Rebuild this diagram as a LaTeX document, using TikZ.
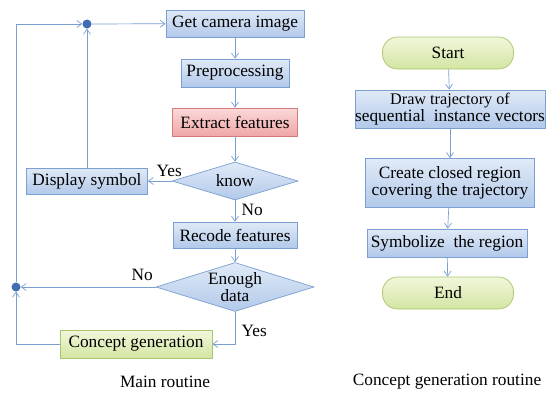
\documentclass[tikz,border=0pt]{standalone}
\usepackage{fontspec}
\setmainfont{Liberation Serif}
\usetikzlibrary{arrows.meta, shapes.geometric, calc}
\definecolor{edgeblue}{HTML}{7A9FD0}
\definecolor{boxtop}{HTML}{E0EAF7}
\definecolor{boxbot}{HTML}{B2C9EA}
\definecolor{redtop}{HTML}{FBD9D9}
\definecolor{redbot}{HTML}{F0A6A6}
\definecolor{redline}{HTML}{D47C7C}
\definecolor{greentop}{HTML}{F1F7DC}
\definecolor{greenbot}{HTML}{D3E5A2}
\definecolor{greenline}{HTML}{A9C66A}
\definecolor{dotblue}{HTML}{3F6CB2}

\begin{document}
\begin{tikzpicture}[
    x=1pt, y=-1pt,
    font=\fontsize{17.3}{17}\selectfont,
    blk/.style={draw=edgeblue, line width=0.7pt, top color=boxtop, bottom color=boxbot,
                inner sep=0pt, align=center, minimum height=27pt},
    hot/.style={blk, draw=redline, top color=redtop, bottom color=redbot},
    gen/.style={blk, draw=greenline, top color=greentop, bottom color=greenbot},
    term/.style={gen, rounded corners=15pt, minimum width=131pt, minimum height=32pt},
    ask/.style={diamond, aspect=3.2, draw=edgeblue, line width=0.7pt,
                top color=boxtop, bottom color=boxbot, inner sep=0pt, align=center},
    jn/.style={circle, fill=dotblue, inner sep=0pt, minimum size=9pt},
    ar/.style={-{Straight Barb[length=5pt, width=7pt]}, draw=edgeblue, line width=0.7pt},
    ln/.style={draw=edgeblue, line width=0.7pt},
    cpt/.style={align=center}
  ]
    \useasboundingbox (0,0) rectangle (547,394);

    % main routine
    \node[jn] (jtop) at (87,24) {};
    \node[jn] (jleft) at (16,287) {};
    \node[blk, minimum width=138pt] (get) at (235,23.5) {Get camera image};
    \node[blk, minimum width=108pt, minimum height=28pt] (pre) at (235,73) {Preprocessing};
    \node[hot, minimum width=125pt, minimum height=28pt] (ext) at (235,122) {Extract features};
    \node[ask, minimum width=126pt, minimum height=38pt] (know) at (235,181) {know};
    \node[blk, minimum width=121pt, minimum height=26pt] (disp) at (87,181) {Display symbol};
    \node[blk, minimum width=124pt, minimum height=26pt] (rec) at (235,235) {Recode features};
    \node[ask, minimum width=158pt, minimum height=49pt] (enough) at (235,287)
      {\fontsize{17.3}{15}\selectfont Enough\\data};
    \node[gen, minimum width=152pt, minimum height=28pt] (cgen) at (136,344) {Concept generation};

    \draw[ar] (jtop) -- (get);
    \draw[ar] (get) -- (pre);
    \draw[ar] (pre) -- (ext);
    \draw[ar] (ext) -- (know);
    \draw[ar] (know) -- node[pos=0.1, above=1pt] {Yes} (disp);
    \draw[ar] (know) -- node[pos=0.45, right=3pt] {No} (rec);
    \draw[ar] (rec) -- (enough);
    \draw[ar] (enough) -- node[pos=0.1, above=3pt] {No} (jleft);
    \draw[ar] (enough.south) |- node[pos=0.3, right=3pt] {Yes} (cgen);
    \draw[ln] (cgen) -| (jleft.south);
    \draw[ar] ($(jleft.south)+(0,6)$) -- (jleft);
    \draw[ar] (disp) -- (jtop);
    \draw[ar] (jleft) |- (jtop);

    % concept generation routine
    \node[term] (start) at (448,53) {Start};
    \node[blk, minimum width=185pt, minimum height=38pt] (traj) at (450,109)
      {\fontsize{16.2}{18}\selectfont Draw trajectory of\\sequential\ \ instance vectors};
    \node[blk, minimum width=169pt, minimum height=49pt] (reg) at (450,183)
      {\fontsize{17.3}{20}\selectfont Create closed region\\covering the trajectory};
    \node[blk, minimum width=160pt, minimum height=28pt] (sym) at (447,243) {Symbolize\ \ the region};
    \node[term] (fin) at (448,293) {End};

    \draw[ar] (start) -- (traj);
    \draw[ar] (traj) -- (reg);
    \draw[ar] (reg) -- (sym);
    \draw[ar] (sym) -- (fin);

    \node[cpt] (c1) at (165,382) {Main routine};
    \node[cpt] (c2) at (447,382) {Concept generation routine};
  \end{tikzpicture}
\end{document}
